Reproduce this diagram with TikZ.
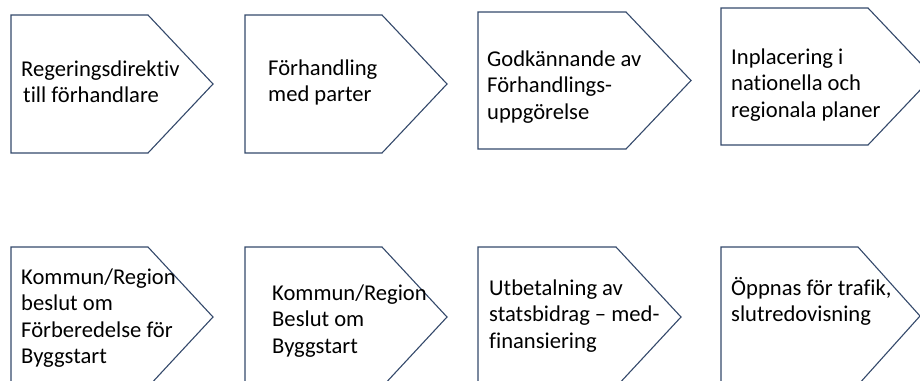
\documentclass[tikz,border=0pt]{standalone}
\usepackage{fontspec}
\setmainfont{Carlito}[Ligatures={TeX,NoCommon}]
\definecolor{edge}{HTML}{34496B}
\tikzset{
  stepshape/.style={draw=edge, line width=1.1pt, line join=miter, fill=white},
  steptext/.style={anchor=base west, inner sep=0pt, font=\fontsize{22.6}{26.5}\selectfont}
}
\newcommand{\lns}[1]{\begin{tabular}[t]{@{}l@{}}#1\end{tabular}}
\begin{document}
\begin{tikzpicture}[x=1pt,y=-1pt]
\useasboundingbox (0,0) rectangle (920,380);
\clip (0,0) rectangle (920,380);
% row 1
\draw[stepshape] (11,15) -- (148,15) -- (213,84) -- (148,153) -- (11,153) -- cycle;
\draw[stepshape] (245,15) -- (382,15) -- (447,84) -- (382,153) -- (245,153) -- cycle;
\draw[stepshape] (478,12) -- (626,12) -- (691,80.5) -- (626,149) -- (478,149) -- cycle;
\draw[stepshape] (721,8) -- (868,8) -- (933,76.5) -- (868,145) -- (721,145) -- cycle;
% row 2
\draw[stepshape] (11,247) -- (148,247) -- (213,317) -- (148,387) -- (11,387) -- cycle;
\draw[stepshape] (245,247) -- (382,247) -- (447,317) -- (382,387) -- (245,387) -- cycle;
\draw[stepshape] (478,247) -- (616,247) -- (681,317) -- (616,387) -- (478,387) -- cycle;
\draw[stepshape] (721,247) -- (858,247) -- (920,316) -- (858,385) -- (721,385) -- cycle;
% texts
\node[steptext] (t1) at (21,76) {\lns{Regeringsdirektiv\\\hspace{2pt}till förhandlare}};
\node[steptext] (t2) at (268,75) {\lns{Förhandling\\med parter}};
\node[steptext] (t3) at (487,66) {\lns{Godkännande av\\Förhandlings-\\uppgörelse}};
\node[steptext] (t4) at (731,64) {\lns{Inplacering i\\nationella och\\regionala planer}};
\node[steptext] (t5) at (21,284) {\lns{Kommun/Region\\beslut om\\Förberedelse för\\Byggstart}};
\node[steptext] (t6) at (272,300) {\lns{Kommun/Region\\Beslut om\\Byggstart}};
\node[steptext] (t7) at (489,295) {\lns{Utbetalning av\\statsbidrag – med-\\finansiering}};
\node[steptext] (t8) at (731,295) {\lns{Öppnas för trafik,\\slutredovisning}};
\end{tikzpicture}
\end{document}
